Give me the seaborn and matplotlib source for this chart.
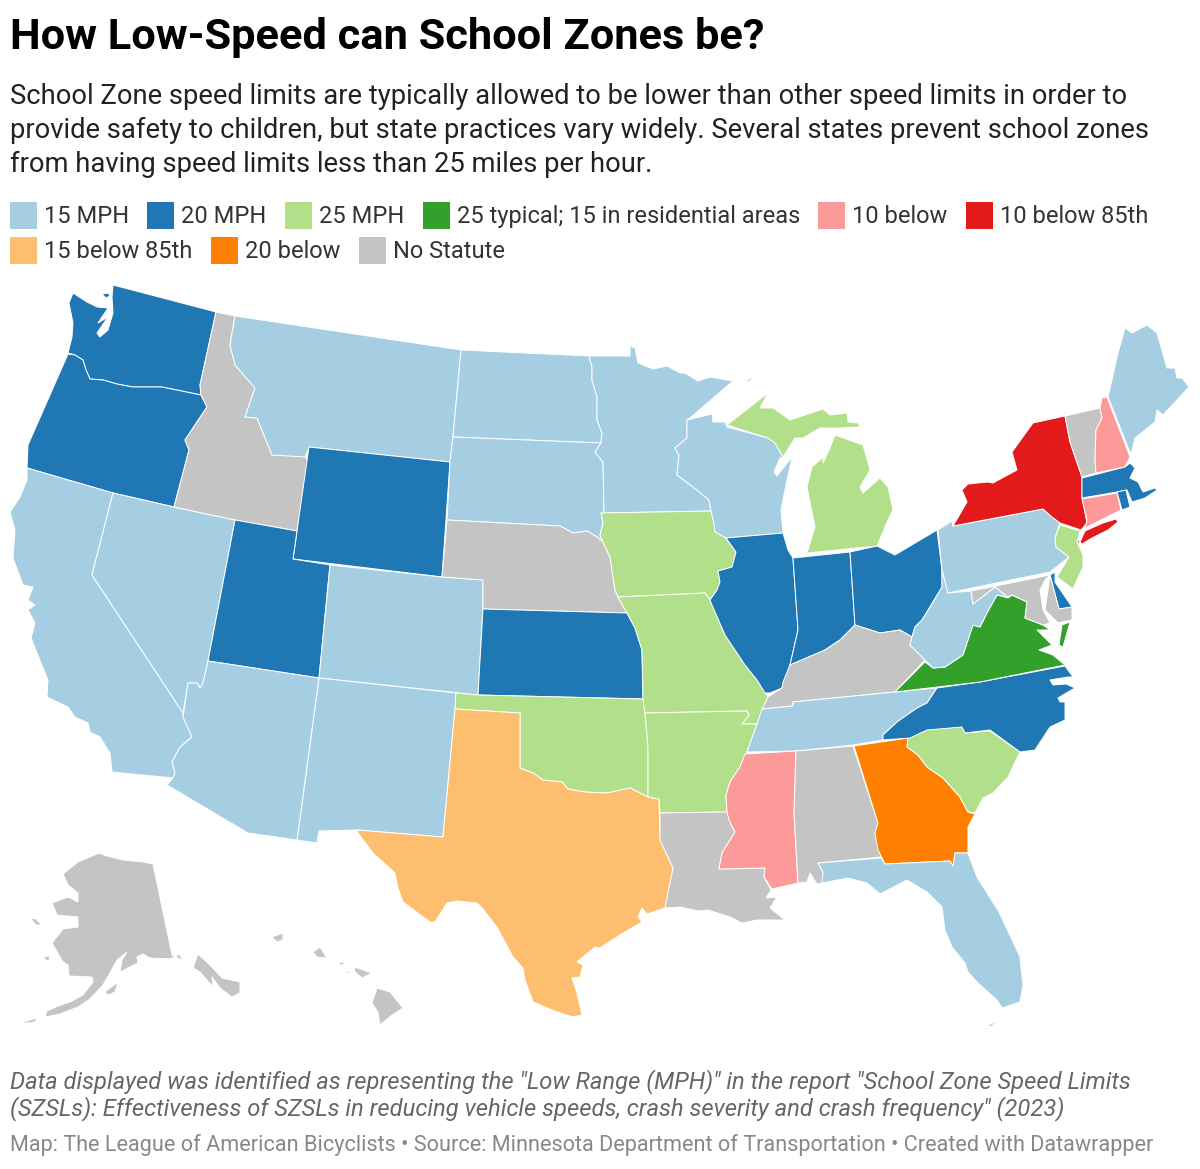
import matplotlib
matplotlib.use("Agg")
import matplotlib.pyplot as plt
from matplotlib.patches import Rectangle
import seaborn as sns

sns.set_theme(style="white")
plt.rcParams['font.family'] = ['Roboto', 'DejaVu Sans']

TITLE = "How Low-Speed can School Zones be?"
SUBTITLE = ["School Zone speed limits are typically allowed to be lower than other speed limits in order to",
            "provide safety to children, but state practices vary widely. Several states prevent school zones",
            "from having speed limits less than 25 miles per hour."]
NOTE = ["Data displayed was identified as representing the \"Low Range (MPH)\" in the report \"School Zone Speed Limits",
        "(SZSLs): Effectiveness of SZSLs in reducing vehicle speeds, crash severity and crash frequency\" (2023)"]
SOURCE = "Map: The League of American Bicyclists \u2022 Source: Minnesota Department of Transportation \u2022 Created with Datawrapper"

CATEGORIES = ["15 MPH", "20 MPH", "25 MPH", "25 typical; 15 in residential areas", "10 below",
              "10 below 85th", "15 below 85th", "20 below", "No Statute"]
COLORS = sns.color_palette("Paired", 8).as_hex() + ["#c4c4c4"]

STATE_CATEGORY = {
    "WA": "20 MPH", "OR": "20 MPH", "CA": "15 MPH", "NV": "15 MPH", "ID": "No Statute", "MT": "15 MPH",
    "WY": "20 MPH", "UT": "20 MPH", "CO": "15 MPH", "AZ": "15 MPH", "NM": "15 MPH", "ND": "15 MPH",
    "SD": "15 MPH", "NE": "No Statute", "KS": "20 MPH", "OK": "25 MPH", "TX": "15 below 85th", "MN": "15 MPH",
    "IA": "25 MPH", "MO": "25 MPH", "AR": "25 MPH", "LA": "No Statute", "WI": "15 MPH", "IL": "20 MPH",
    "MI": "25 MPH", "IN": "20 MPH", "OH": "20 MPH", "KY": "No Statute", "TN": "15 MPH", "MS": "10 below",
    "AL": "No Statute", "GA": "20 below", "FL": "15 MPH", "SC": "25 MPH", "NC": "20 MPH",
    "VA": "25 typical; 15 in residential areas", "WV": "15 MPH", "PA": "15 MPH", "NY": "10 below 85th",
    "VT": "No Statute", "NH": "10 below", "ME": "15 MPH", "MA": "20 MPH", "RI": "20 MPH", "CT": "10 below",
    "NJ": "25 MPH", "DE": "20 MPH", "MD": "No Statute", "AK": "No Statute", "HI": "No Statute",
}

# State outlines, one list of rings per state
WA = [[(113,285),(216,312),(200,385),(201,395),(162,387),(133,387),(117,384),(103,380),(90,379),(86,370),(83,360),(75,355),(68,353),(72,337),(73,323),(69,303),(73,293),(87,302),(97,307),(108,308),(98,323),(108,317),(97,333),(100,337),(108,330),(113,313),(112,297)],
      [(102,294),(108,293),(110,296),(106,298)]]
OR = [[(68,354),(75,355),(83,360),(86,370),(90,379),(103,380),(117,384),(133,387),(162,387),(201,395),(207,407),(185,440),(189,450),(174,507),(113,493),(27,468),(28,445),(50,395)]]
CA = [[(27,468),(113,493),(92,575),(183,713),(183,717),(192,737),(180,747),(172,762),(175,773),(173,778),(112,772),(110,753),(100,737),(90,732),(88,723),(75,717),(68,707),(47,697),(48,680),(37,653),(31,638),(35,623),(28,610),(35,605),(28,600),(33,587),(23,585),(13,558),(15,530),(10,512),(20,497),(27,480)]]
NV = [[(113,493),(174,507),(235,520),(208,661),(203,683),(200,688),(197,683),(188,683),(183,713),(92,575)]]
ID = [[(216,312),(235,316),(230,345),(235,365),(255,388),(245,417),(257,418),(272,455),(303,455),(308,460),(297,531),(235,520),(174,507),(189,450),(185,440),(207,407),(201,395),(200,385)]]
MT = [[(235,316),(461,350),(453,437),(450,462),(309,447),(305,457),(272,455),(257,418),(245,417),(255,388),(235,365),(230,345)]]
WY = [[(309,447),(450,462),(442,577),(293,559)]]
UT = [[(235,520),(297,531),(293,559),(330,565),(319,678),(208,661)]]
CO = [[(330,565),(442,577),(483,580),(483,609),(478,695),(319,678)]]
NM = [[(319,678),(456,693),(455,709),(443,837),(357,830),(319,831),(317,843),(297,840)]]
AZ = [[(208,661),(319,678),(297,840),(248,833),(167,785),(173,778),(175,773),(172,762),(180,747),(192,737),(183,717),(188,683),(197,683),(200,688),(203,683)]]
ND = [[(461,350),(589,356),(592,367),(592,380),(597,397),(597,420),(602,433),(601,443),(453,437)]]
SD = [[(453,437),(601,443),(595,452),(603,462),(604,513),(601,513),(603,523),(600,535),(603,542),(597,537),(587,531),(573,533),(560,526),(447,520),(450,462)]]
NE = [[(447,520),(560,526),(573,533),(587,531),(597,537),(603,542),(610,557),(615,590),(618,597),(627,613),(483,609),(483,580),(442,577)]]
KS = [[(483,609),(627,613),(635,628),(642,650),(643,699),(478,695)]]
OK = [[(456,693),(478,695),(643,699),(645,713),(648,747),(648,797),(630,788),(607,793),(585,792),(568,789),(562,782),(543,780),(533,773),(520,768),(520,713),(455,709)]]
TX = [[(455,709),(520,713),(520,768),(533,773),(543,780),(562,782),(568,789),(585,792),(607,793),(630,788),(648,797),(659,799),(660,840),(673,868),(668,893),(665,908),(647,914),(642,908),(638,917),(642,922),(623,933),(600,948),(595,947),(583,957),(577,962),(583,965),(580,977),(572,978),(577,993),(582,1015),(573,1017),(557,1012),(533,1002),(525,980),(523,968),(513,957),(497,927),(482,908),(477,903),(457,901),(447,903),(435,922),(430,922),(403,902),(398,888),(395,873),(373,853),(358,833),(357,830),(443,837)]]
MN = [[(589,356),(630,356),(630,346),(635,348),(638,363),(653,369),(667,366),(680,373),(685,373),(698,381),(710,377),(733,381),(690,418),(687,420),(687,438),(675,448),(679,455),(677,475),(697,490),(709,500),(711,511),(604,513),(603,462),(595,452),(601,443),(602,433),(597,420),(597,397),(592,380),(592,367)]]
IA = [[(601,513),(711,511),(714,523),(715,532),(723,535),(736,552),(732,567),(718,571),(720,582),(717,590),(710,600),(705,593),(618,597),(615,590),(610,557),(603,542),(600,535),(603,523)]]
MO = [[(618,597),(705,593),(710,600),(712,605),(725,635),(745,665),(757,680),(768,697),(757,724),(742,724),(749,715),(747,711),(645,713),(643,699),(642,650),(635,628),(627,613)]]
AR = [[(645,713),(747,711),(749,715),(742,724),(757,724),(753,735),(747,752),(740,767),(730,782),(726,795),(727,812),(660,813),(659,799),(648,797),(648,747)]]
LA = [[(660,813),(727,812),(732,827),(735,832),(722,853),(719,869),(765,868),(764,877),(771,890),(766,898),(777,897),(770,908),(785,920),(773,920),(757,920),(742,923),(730,917),(708,910),(698,911),(680,907),(665,908),(668,893),(673,868),(660,840)]]
WI = [[(726,538),(715,532),(714,523),(711,511),(709,500),(697,490),(677,475),(679,455),(675,448),(687,438),(687,420),(712,414),(713,422),(725,422),(727,427),(768,438),(775,443),(783,457),(780,458),(774,472),(777,476),(792,457),(786,485),(781,510),(783,533)]]
MI = [[(727,425),(750,407),(768,393),(760,408),(773,408),(790,420),(823,409),(830,415),(847,413),(848,422),(858,423),(860,427),(840,428),(820,428),(803,438),(795,438),(783,457),(775,443),(768,438)],
      [(835,435),(863,445),(870,470),(860,487),(863,493),(880,478),(888,487),(893,510),(888,520),(877,546),(807,553),(815,527),(807,487),(812,467),(823,457),(823,463),(830,448)],
      [(743,383),(755,375),(750,381)]]
IL = [[(726,538),(783,533),(788,550),(793,558),(798,630),(790,665),(782,688),(770,693),(765,693),(757,680),(745,665),(725,635),(712,605),(710,600),(717,590),(720,582),(718,571),(732,567),(736,552)]]
IN = [[(793,558),(850,552),(855,625),(840,640),(825,650),(790,665),(798,630)]]
OH = [[(850,552),(877,546),(895,555),(937,530),(942,570),(942,587),(930,607),(922,620),(915,627),(912,637),(900,630),(880,633),(855,625)]]
KY = [[(783,682),(790,665),(825,650),(840,640),(855,625),(880,633),(900,630),(912,637),(910,645),(925,660),(895,692),(793,702),(793,706),(762,709),(768,697),(782,688)]]
TN = [[(937,688),(895,692),(793,702),(793,706),(762,709),(757,724),(753,735),(747,752),(797,751),(853,745),(883,740),(883,735),(897,722),(917,708),(927,703)]]
MS = [[(745,754),(796,751),(794,813),(798,883),(772,889),(764,877),(765,868),(719,869),(722,853),(735,832),(729,820),(727,812),(726,795),(730,782),(740,767)]]
AL = [[(796,751),(853,746),(878,823),(875,833),(881,857),(818,863),(823,872),(823,883),(817,884),(810,873),(807,882),(798,883),(794,813)]]
GA = [[(854,746),(908,738),(907,747),(918,755),(927,767),(943,778),(960,797),(968,812),(975,814),(968,827),(968,853),(955,853),(953,866),(950,861),(885,864),(878,850),(875,833),(878,823)]]
SC = [[(908,738),(927,729),(962,727),(965,733),(990,731),(1020,752),(1008,777),(993,793),(983,798),(975,813),(968,812),(960,797),(943,778),(927,767),(918,755),(907,747)]]
FL = [[(818,863),(881,858),(885,864),(950,861),(953,866),(955,853),(968,853),(977,877),(999,912),(1020,957),(1023,985),(1020,1002),(1002,1008),(997,1000),(978,983),(968,972),(965,963),(952,947),(945,930),(942,907),(927,892),(907,880),(880,894),(867,883),(848,878),(822,883),(823,872)],
      [(985,1027),(998,1020),(992,1026)]]
NC = [[(1065,666),(1073,677),(1068,677),(1050,680),(1053,685),(1066,684),(1075,688),(1068,692),(1058,698),(1060,702),(1065,702),(1065,720),(1050,727),(1035,750),(1020,752),(990,730),(965,733),(962,727),(927,730),(910,738),(883,740),(883,735),(897,722),(917,708),(927,703),(937,688),(980,682)]]
VA = [[(895,692),(925,662),(933,668),(945,667),(963,655),(973,625),(980,627),(987,613),(997,595),(1008,598),(1012,595),(1027,602),(1025,618),(1043,625),(1050,630),(1037,630),(1052,645),(1039,650),(1053,655),(1065,665),(980,682)],
      [(1070,622),(1063,647),(1059,645),(1062,625)]]
WV = [[(942,570),(948,593),(971,591),(973,604),(995,587),(1008,597),(997,595),(987,613),(980,627),(973,625),(963,655),(945,667),(933,668),(925,660),(910,645),(912,637),(915,627),(922,620),(930,607),(942,587)]]
PA = [[(938,530),(952,521),(953,526),(1043,509),(1052,517),(1060,523),(1055,538),(1056,547),(1069,557),(1050,572),(948,593),(942,570)]]
NY = [[(953,526),(967,502),(962,490),(968,484),(988,482),(993,483),(1017,470),(1012,452),(1033,423),(1065,416),(1070,442),(1082,477),(1082,497),(1087,523),(1081,530),(1060,523),(1052,517),(1043,509)],
      [(1080,542),(1085,531),(1103,523),(1116,519),(1118,522),(1108,530),(1092,538),(1082,544)],
      [(1077,541),(1080,540),(1079,544)]]
NJ = [[(1060,525),(1080,531),(1077,542),(1083,555),(1083,567),(1073,589),(1057,577),(1069,557),(1056,547),(1055,538)]]
DE = [[(1050,575),(1055,572),(1055,582),(1072,607),(1059,609)]]
MD = [[(971,591),(1050,575),(1045,580),(1040,590),(1043,610),(1050,623),(1043,625),(1025,618),(1027,602),(1012,595),(1008,597),(995,587),(973,604)],
      [(1050,575),(1059,609),(1072,607),(1072,620),(1058,623),(1045,610),(1048,590)]]
VT = [[(1065,416),(1100,408),(1102,418),(1096,430),(1095,460),(1096,473),(1082,477),(1070,442)]]
NH = [[(1107,397),(1130,457),(1125,467),(1096,473),(1095,460),(1096,430),(1102,418),(1100,408),(1102,398)]]
ME = [[(1108,397),(1118,353),(1125,328),(1132,333),(1147,325),(1157,333),(1167,368),(1175,368),(1177,378),(1182,378),(1189,387),(1163,415),(1157,410),(1155,422),(1135,438),(1131,455)]]
MA = [[(1082,478),(1125,467),(1130,463),(1135,468),(1130,478),(1138,482),(1143,492),(1155,488),(1157,490),(1145,498),(1132,502),(1127,490),(1117,492),(1082,498)]]
RI = [[(1117,492),(1126,490),(1130,507),(1122,510)]]
CT = [[(1082,499),(1117,493),(1121,510),(1085,528),(1087,520)]]
AK = [[(99,853),(78,862),(63,874),(68,885),(78,893),(78,902),(68,897),(52,903),(57,915),(78,917),(78,927),(63,929),(52,943),(63,962),(68,965),(69,976),(92,977),(93,982),(83,995),(70,1002),(58,1006),(47,1011),(45,1017),(60,1014),(78,1007),(90,999),(103,985),(110,973),(117,960),(127,952),(122,960),(120,972),(138,963),(137,957),(143,954),(150,958),(170,959),(180,954),(182,960),(193,968),(198,954),(210,965),(222,978),(240,982),(240,993),(232,997),(220,988),(212,977),(213,987),(200,972),(192,967),(178,958),(172,955),(153,864),(143,862),(123,860),(107,856)],
      [(30,918),(36,919),(42,925),(36,925)],[(43,957),(50,956),(49,961),(46,960)],[(105,992),(118,982),(115,992),(108,995)],[(20,1023),(30,1020),(37,1018),(35,1022),(27,1023)]]
HI = [[(377,988),(390,992),(403,1008),(392,1015),(380,1025),(378,1012),(372,1003)],[(272,937),(283,933),(283,940),(277,942)],[(313,952),(320,947),(327,958),(317,957)],[(338,962),(348,963),(340,965)],[(345,971),(350,972),(347,974)],[(354,967),(372,973),(362,978),(355,972)]]

OUTLINES = {"WA":WA,"OR":OR,"CA":CA,"NV":NV,"ID":ID,"MT":MT,"WY":WY,"UT":UT,"CO":CO,"NM":NM,"AZ":AZ,"ND":ND,"SD":SD,"NE":NE,"KS":KS,"OK":OK,"TX":TX,"MN":MN,"IA":IA,"MO":MO,"AR":AR,"LA":LA,"WI":WI,"MI":MI,"IL":IL,"IN":IN,"OH":OH,"KY":KY,"TN":TN,"MS":MS,"AL":AL,"GA":GA,"SC":SC,"FL":FL,"NC":NC,"VA":VA,"WV":WV,"PA":PA,"NY":NY,"NJ":NJ,"DE":DE,"MD":MD,"VT":VT,"NH":NH,"ME":ME,"MA":MA,"RI":RI,"CT":CT,"AK":AK,"HI":HI}

fig = plt.figure(figsize=(12, 11.69), dpi=100, facecolor="white")
ax = fig.add_axes([0, 0, 1, 1])
ax.set_xlim(0, 1200)
ax.set_ylim(1169, 0)
ax.axis("off")

palette = dict(zip(CATEGORIES, COLORS))
for state, rings in OUTLINES.items():
    for ring in rings:
        xs, ys = zip(*ring)
        ax.fill(xs, ys, facecolor=palette[STATE_CATEGORY[state]], edgecolor="white", linewidth=0.7, joinstyle="round")

ax.text(10, 33.5, TITLE, fontsize=31.2, fontweight="bold", color="#000000", va="center_baseline", ha="left")
for line, y in zip(SUBTITLE, (93, 127, 161)):
    ax.text(10, y, line, fontsize=19.75, color="#222222", va="center_baseline", ha="left")

legend_layout = [(10, 215), (147, 215), (285, 215), (423, 215), (818, 215), (966, 215), (10, 250), (211, 250), (359, 250)]
for label, (x, y) in zip(CATEGORIES, legend_layout):
    ax.add_patch(Rectangle((x, y - 13.5), 27, 27, facecolor=palette[label], edgecolor="none"))
    ax.text(x + 34, y - 1, label, fontsize=17.0, color="#333333", va="center_baseline", ha="left")

for line, y in zip(NOTE, (1079, 1106)):
    ax.text(10, y, line, fontsize=17.1, style="italic", color="#666666", va="center_baseline", ha="left")
ax.text(10, 1143, SOURCE, fontsize=15.55, color="#888888", va="center_baseline", ha="left")

fig.savefig("out.png", dpi=100, facecolor="white")
